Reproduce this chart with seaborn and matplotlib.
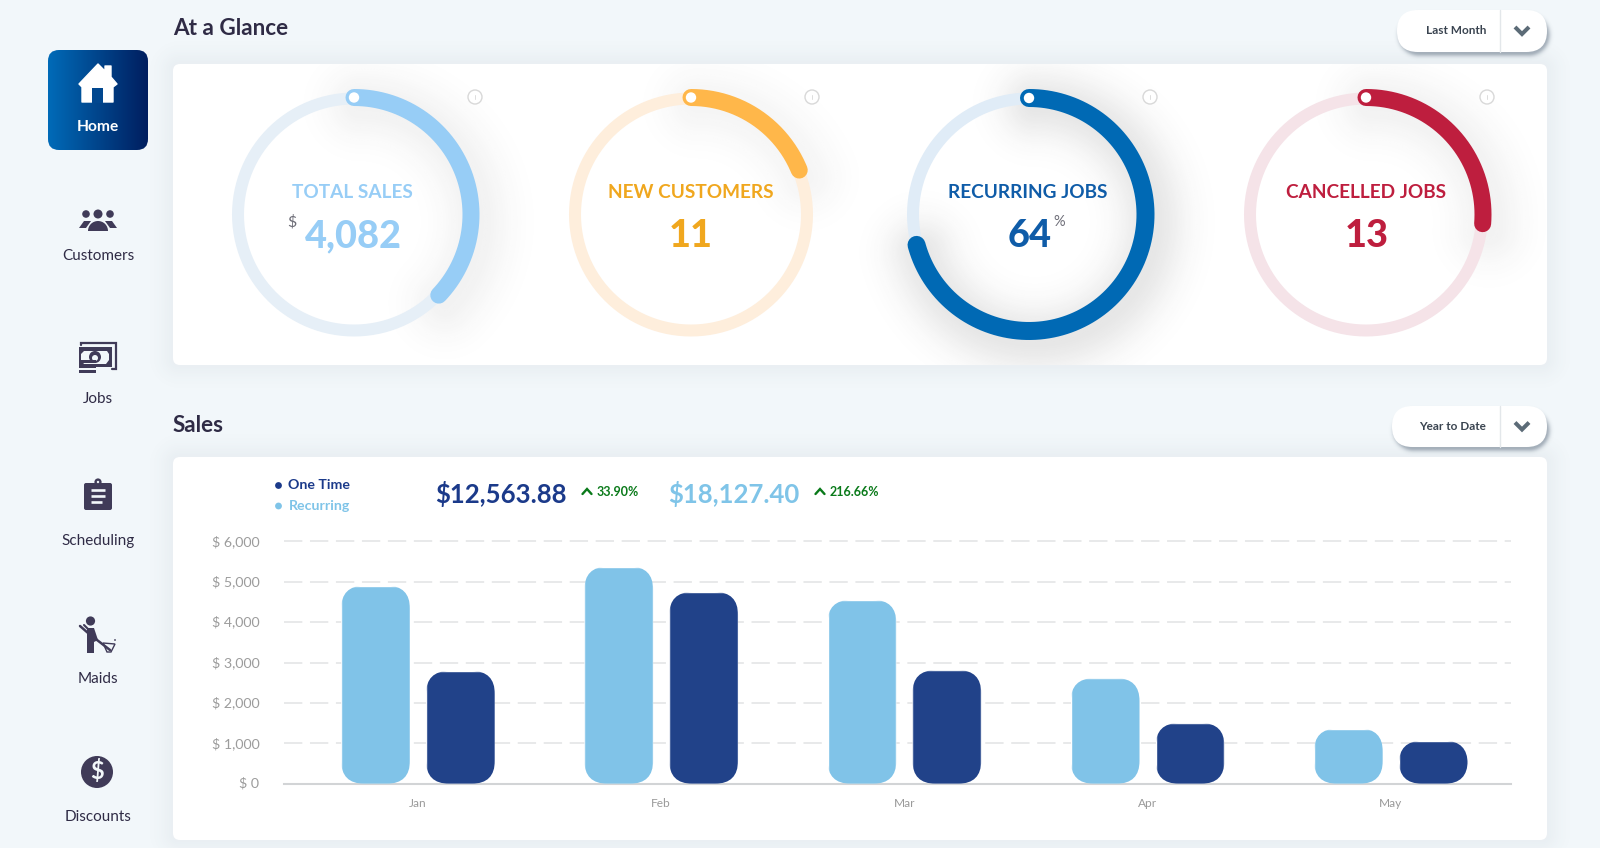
import numpy as np
import pandas as pd
import matplotlib
matplotlib.use("Agg")
import matplotlib.pyplot as plt
from matplotlib.patches import FancyBboxPatch, Circle, Polygon, Rectangle, Wedge
from matplotlib.transforms import ScaledTranslation
import seaborn as sns

months = ["Jan", "Feb", "Mar", "Apr", "May"]
recurring_sales = [4900, 5372, 4547, 2610, 1363]
one_time_sales = [2790, 4745, 2810, 1500, 1060]
y_ticks = [0, 1000, 2000, 3000, 4000, 5000, 6000]

gauge_titles = ["TOTAL SALES", "NEW CUSTOMERS", "RECURRING JOBS", "CANCELLED JOBS"]
gauge_values = ["4,082", "11", "64", "13"]
gauge_fractions = [0.371, 0.188, 0.708, 0.2625]

series_names = ["One Time", "Recurring"]
series_totals = ["$12,563.88", "$18,127.40"]
series_changes = ["33.90%", "216.66%"]
nav_labels = ["Home", "Customers", "Jobs", "Scheduling", "Maids", "Discounts"]

BG = "#F2F7FA"
INK = "#2F2B45"
ICON = "#403B58"
LIGHT = "#80C3E8"
DARK = "#214289"
px = 0.72

sns.set_theme(style="white")
plt.rcParams["font.family"] = ["Lato", "DejaVu Sans"]

fig = plt.figure(figsize=(16, 8.48), dpi=100, facecolor=BG)
bg = fig.add_axes([0, 0, 1, 1], zorder=0)
bg.set_axis_off()


def box_shadow(x0, y0, x1, y1, r, sigma, alpha, dx=0, dy=0):
    m = int(3 * sigma) + 2
    xs = np.arange(x0 - m + dx, x1 + m + dx)
    ys = np.arange(y0 - m + dy, y1 + m + dy)
    X, Y = np.meshgrid(xs, ys)
    cx, cy = (x0 + x1) / 2 + dx, (y0 + y1) / 2 + dy
    qx = np.abs(X - cx) - ((x1 - x0) / 2 - r)
    qy = np.abs(Y - cy) - ((y1 - y0) / 2 - r)
    d = np.hypot(np.maximum(qx, 0), np.maximum(qy, 0)) + np.minimum(np.maximum(qx, qy), 0) - r
    a = alpha * np.exp(-np.maximum(d + sigma * 0.3, 0) ** 2 / (2 * sigma ** 2))
    img = np.zeros(a.shape + (4,))
    img[..., :3] = (0.25, 0.32, 0.40)
    img[..., 3] = a
    bg.imshow(img, extent=(xs[0], xs[-1], ys[-1], ys[0]), aspect="auto", zorder=1, interpolation="bilinear")


def arc_shadow(cx, cy, R, frac, sigma, alpha, dx, dy, clip):
    m = int(3 * sigma)
    xs = np.arange(cx - R - m, cx + R + m, 2.0) + dx
    ys = np.arange(cy - R - m, cy + R + m, 2.0) + dy
    X, Y = np.meshgrid(xs, ys)
    t = np.linspace(0, frac * 2 * np.pi, 160)
    ax_, ay_ = cx + dx + R * np.sin(t), cy + dy - R * np.cos(t)
    d2 = np.min((X[..., None] - ax_) ** 2 + (Y[..., None] - ay_) ** 2, axis=-1)
    img = np.zeros(d2.shape + (4,))
    img[..., :3] = 0.2
    img[..., 3] = alpha * np.exp(-d2 / (2 * sigma ** 2))
    im = bg.imshow(img, extent=(xs[0], xs[-1], ys[-1], ys[0]), aspect="auto", zorder=3, interpolation="bilinear")
    im.set_clip_path(clip)


def card(x0, y0, x1, y1):
    box_shadow(x0, y0, x1, y1, 6, 12, 0.05)
    p = FancyBboxPatch((x0 + 6, y0 + 6), x1 - x0 - 12, y1 - y0 - 12, boxstyle="round,pad=6,rounding_size=7",
                       fc="white", ec="none", zorder=2)
    bg.add_patch(p)
    return p


card1 = card(173, 64, 1547, 365)
card2 = card(173, 457, 1547, 840)

# page headings
bg.text(173, 28.5, "At a Glance", fontsize=16.2, fontweight="bold", color=INK, va="center", ha="left")
bg.text(173, 425.5, "Sales", fontsize=16.2, fontweight="bold", color=INK, va="center", ha="left")


def dropdown(x0, x1, y0, y1, label, tx):
    box_shadow(x0 + 2, y0 + 4, x1, y1, (y1 - y0 - 4) / 2, 2.6, 0.42, 1, 2)
    h = (y1 - y0) / 2
    bg.add_patch(FancyBboxPatch((x0 + h, y0 + h), x1 - x0 - 2 * h, 0.01, boxstyle=f"round,pad={h},rounding_size={h}",
                                fc="white", ec="none", zorder=4))
    bg.plot([1500, 1500], [y0, y1], color="#E3E7EA", lw=1, zorder=5)
    ym = (y0 + y1) / 2
    bg.plot([1515, 1522, 1529], [ym - 4, ym + 3, ym - 4], color="#5C6B77", lw=3.2 * px + 0.6, zorder=5,
            solid_capstyle="butt", solid_joinstyle="miter")
    bg.text(tx, ym, label, fontsize=8.5, fontweight="bold", color="#3A4450", ha="center", va="center", zorder=5)


dropdown(1397, 1547, 10, 52, "Last Month", 1456)
dropdown(1392, 1547, 406, 447, "Year to Date", 1453)

# gauges
centers = [354, 691, 1029, 1366]
track_cols = ["#E6EFF7", "#FEEEDC", "#E0ECF7", "#F5E3E8"]
arc_cols = ["#97CDF6", "#FFB74A", "#0069B4", "#BE1E3E"]
title_cols = ["#97CDF6", "#F0A71E", "#0F5CA8", "#BE1E3E"]
shadow_alpha = [0.065, 0.05, 0.12, 0.065]
arc_radius = [117, 117, 116.5, 117]
title_shift = [-2, 0, -1, 0]
value_shift = [-1, 0, 1, 1]
info_x = [475, 812, 1150, 1487]
CY = 214.5
full = np.linspace(0, 2 * np.pi, 361)
for i, cx in enumerate(centers):
    f = gauge_fractions[i]
    arc_shadow(cx, CY, 118, f, 24, shadow_alpha[i], 6, 8, card1)
    bg.plot(cx + 116 * np.sin(full), CY - 116 * np.cos(full), color=track_cols[i], lw=12 * px, zorder=4)
    t = np.linspace(0, f * 2 * np.pi, 240)
    R = arc_radius[i]
    w = 18 if i == 2 else 17
    bg.plot(cx + R * np.sin(t), CY - R * np.cos(t), color=arc_cols[i], lw=w * px, zorder=5, solid_capstyle="round")
    bg.add_patch(Circle((cx, CY - R), 5.2, fc="white", ec="none", zorder=6))
    bg.add_patch(Circle((info_x[i], 97), 7, fc="white", ec="#D8D8D8", lw=1, zorder=4))
    bg.plot([info_x[i]] * 2, [95, 99], color="#DDDDDD", lw=0.7, zorder=5)
    bg.text(cx + title_shift[i], 192.5, gauge_titles[i], fontsize=13.7, fontweight="bold", color=title_cols[i],
            ha="center", va="center", zorder=6)
    bg.text(cx + value_shift[i], 236, gauge_values[i], fontsize=27.3, fontweight="black", color=title_cols[i],
            ha="center", va="center", zorder=6)
bg.text(292, 222, "$", fontsize=11.5, color="#6E6E78", ha="center", va="center", zorder=6)
bg.text(1059, 222, "%", fontsize=10.5, color="#6E6E78", ha="center", va="center", zorder=6)

# sidebar: home button
home = FancyBboxPatch((58, 60), 80, 80, boxstyle="round,pad=10,rounding_size=11", fc="none", ec="none",
                      transform=bg.transData)
bg.add_patch(home)
grad = np.linspace(0, 1, 256)[None, :, None]
c0, c1 = np.array([0, 107, 184]) / 255, np.array([0, 30, 95]) / 255
home_im = bg.imshow(c0 + (c1 - c0) * grad, extent=(48, 148, 150, 50), aspect="auto", zorder=3)
home_im.set_clip_path(home)
bg.add_patch(Polygon([(79, 84), (98, 64), (105, 71), (105, 66), (111, 66), (111, 77), (117, 84), (113, 87), (113, 102),
                      (82, 102), (82, 87)], fc="white", ec="white", lw=1, joinstyle="round", zorder=4))
bg.add_patch(Rectangle((92, 88), 11, 15, fc="#01478F", ec="none", zorder=5))

nav_y = [127, 256, 399, 541, 679, 817]
for j, (lab, y) in enumerate(zip(nav_labels, nav_y)):
    bg.text(98, y, lab, fontsize=11.2 if j == 0 else 11, color="white" if j == 0 else INK,
            fontweight="bold" if j == 0 else "normal", ha="center", va="center", zorder=6)

# customers icon
for x, r in [(86, 3.8), (98, 4.5), (110, 3.8)]:
    bg.add_patch(Circle((x, 214), r, fc=ICON, ec="none", zorder=4))
bg.add_patch(Wedge((98, 231), 10, 180, 360, fc=ICON, ec="none", zorder=5))
bg.add_patch(Polygon([(79, 228), (84, 221), (91, 221), (86, 228)], fc=ICON, ec="none", zorder=4))
bg.add_patch(Polygon([(117, 228), (112, 221), (105, 221), (110, 228)], fc=ICON, ec="none", zorder=4))

# jobs icon
bg.plot([81, 81, 116, 116, 112], [345, 342.5, 342.5, 369, 369], color=ICON, lw=1.6, zorder=4, solid_joinstyle="miter")
bg.add_patch(Rectangle((79, 347), 33, 20, fc=ICON, ec="none", zorder=4))
bg.add_patch(Polygon([(84, 351), (107, 351), (109, 354), (109, 360), (106, 364), (84, 364), (81, 360), (81, 354)],
                     fc=BG, ec="none", zorder=5))
bg.add_patch(Circle((95, 357), 6, fc=ICON, ec="none", zorder=6))
bg.add_patch(Circle((95, 358), 3, fc=BG, ec="none", zorder=6))
for y in [360, 365, 370]:
    bg.add_patch(Rectangle((79, y), 17, 3.4, fc=ICON, ec="none", zorder=7))

# scheduling icon
bg.add_patch(FancyBboxPatch((86, 485), 24, 23, boxstyle="round,pad=2,rounding_size=2", fc=ICON, ec="none", zorder=4))
bg.add_patch(Circle((98, 482), 3.6, fc=ICON, ec="none", zorder=4))
bg.add_patch(Circle((98, 482), 1.2, fc=BG, ec="none", zorder=5))
for y, a, b in [(490, 91, 105), (496, 91, 105), (502, 91, 102)]:
    bg.plot([a, b], [y, y], color=BG, lw=1.9, zorder=5, solid_capstyle="butt")

# maid icon
bg.add_patch(Circle((90.5, 621), 4.6, fc=ICON, ec="none", zorder=4))
bg.add_patch(Polygon([(87, 628), (94, 628), (98, 640), (94, 642), (94, 653), (87, 653)], fc=ICON, ec="none", zorder=4))
bg.plot([80, 88, 110], [626, 633, 650], color=ICON, lw=1.8, zorder=5)
bg.plot([84, 92], [625, 633], color=ICON, lw=1.5, zorder=4)
bg.add_patch(Polygon([(103, 643), (115, 644), (111, 652), (107, 652)], fc="none", ec=ICON, lw=1, zorder=5))
bg.add_patch(Circle((115, 640), 0.9, fc=ICON, ec="none", zorder=5))

# discount icon
bg.add_patch(Circle((97, 772), 16, fc=ICON, ec="none", zorder=4))
bg.text(97.5, 771.5, "$", fontsize=17, fontweight="bold", color=BG, ha="center", va="center", zorder=5)

# sales header
for k, (name, y, col) in enumerate(zip(series_names, [485, 505.5], ["#1B3A8A", "#7FC4E8"])):
    bg.add_patch(Circle((278.5, y + 0.5), 3.4, fc=col, ec="none", zorder=4))
    bg.text(288.5, y, name, fontsize=10.2, fontweight="bold", color=col, ha="left", va="center", zorder=4)
for x0, val, col, ax0, chg in [(435.5, series_totals[0], "#1B3A8A", 587, series_changes[0]),
                               (668, series_totals[1], "#7FC4E8", 820, series_changes[1])]:
    bg.text(x0, 494, val, fontsize=18.5, fontweight="bold", color=col, ha="left", va="center", zorder=4)
    bg.plot([ax0 - 4.5, ax0, ax0 + 4.5], [494, 489, 494], color="#0A7A1A", lw=1.7, zorder=4, solid_joinstyle="miter")
    bg.text(ax0 + 10, 491.5, chg, fontsize=9.0, fontweight="bold", color="#0A7A1A", ha="left", va="center", zorder=4)

bg.set_xlim(0, 1600)
bg.set_ylim(848, 0)

# bar chart, on real axes placed over the card
L, Rt, Y0, Y6 = 284, 1511, 783.7, 541.3
ax = fig.add_axes([L / 1600, 1 - Y0 / 848, (Rt - L) / 1600, (Y0 - Y6) / 848], zorder=2)
ax.patch.set_alpha(0)
df = pd.DataFrame({
    "month": months * 2,
    "sales": recurring_sales + one_time_sales,
    "series": ["Recurring"] * len(months) + ["One Time"] * len(months),
})
sns.barplot(data=df, x="month", y="sales", hue="series", hue_order=["Recurring", "One Time"],
            palette={"Recurring": LIGHT, "One Time": DARK}, width=0.698, gap=0.19, legend=False, ax=ax,
            saturation=1, zorder=3)
XL, XR = -0.551, 4.494
ax.set_xlim(XL, XR)
ax.set_ylim(0, 6000)
ax.set_xlabel("")
ax.set_ylabel("")
ax.set_yticks(y_ticks, [f"$ {v:,}" for v in y_ticks])
ax.tick_params(axis="y", length=0, pad=17.7, labelsize=10.2, labelcolor="#9C9C9C")
ax.tick_params(axis="x", length=0, pad=10, labelsize=8.6, labelcolor="#9A9A9A")
nudge = ScaledTranslation(0, 1 / 100, fig.dpi_scale_trans)
for lab in ax.get_yticklabels():
    lab.set_transform(lab.get_transform() + nudge)
for s in ["top", "left", "right"]:
    ax.spines[s].set_visible(False)
ax.spines["bottom"].set_color("#D2D4D6")
ax.spines["bottom"].set_linewidth(1.5)
ax.set_axisbelow(True)
ax.yaxis.grid(True, color="#E2E3E4", lw=1.1, linestyle=(0, (12, 5)))
ax.xaxis.grid(False)
for gl in ax.get_ygridlines():
    gl.set_clip_on(False)

x_per_px = (XR - XL) / (Rt - L)
y_per_px = 6000 / (Y0 - Y6)
rad = 23 * x_per_px
for bar in ax.patches:
    if bar.get_height() <= 0:
        continue
    clip = FancyBboxPatch((bar.get_x(), 0), bar.get_width(), bar.get_height(),
                          boxstyle=f"round,pad=0,rounding_size={rad}", mutation_aspect=y_per_px / x_per_px,
                          transform=ax.transData)
    bar.set_clip_path(clip)

fig.savefig("out.png", dpi=100, facecolor=BG)
